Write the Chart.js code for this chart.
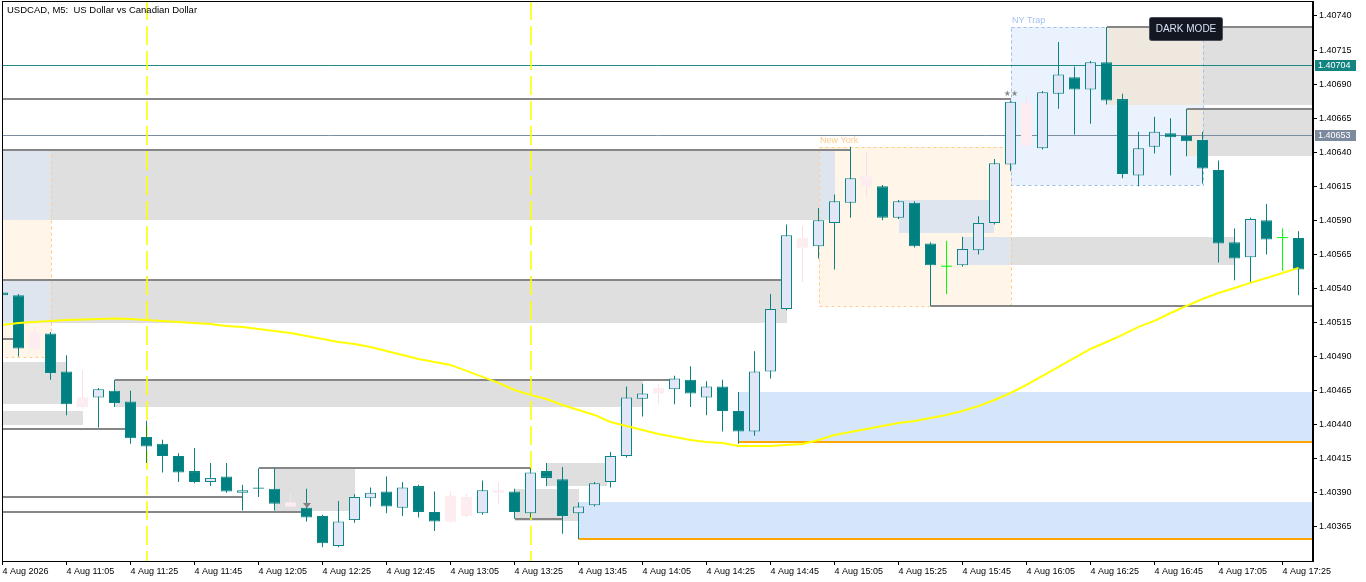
<!DOCTYPE html>
<html><head><meta charset="utf-8">
<script src="https://cdn.jsdelivr.net/npm/chart.js@4.4.1/dist/chart.umd.min.js"></script>
<style>html,body{margin:0;padding:0;background:#fff;overflow:hidden}#wrap{width:1366px;height:582px}</style>
</head><body><div id="wrap"><canvas id="c" width="1366" height="582"></canvas></div>
<script>
// ---------- data ----------
const times = ["10:45","10:50","10:55","11:00","11:05","11:10","11:15","11:20","11:25","11:30","11:35","11:40","11:45","11:50","11:55","12:00","12:05","12:10","12:15","12:20","12:25","12:30","12:35","12:40","12:45","12:50","12:55","13:00","13:05","13:10","13:15","13:20","13:25","13:30","13:35","13:40","13:45","13:50","13:55","14:00","14:05","14:10","14:15","14:20","14:25","14:30","14:35","14:40","14:45","14:50","14:55","15:00","15:05","15:10","15:15","15:20","15:25","15:30","15:35","15:40","15:45","15:50","15:55","16:00","16:05","16:10","16:15","16:20","16:25","16:30","16:35","16:40","16:45","16:50","16:55","17:00","17:05","17:10","17:15","17:20","17:25","17:30"];
const opens  = [1.40537,1.40535,1.40496,1.40507,1.40479,1.40453,1.40460,1.40465,1.40457,1.40431,1.40426,1.40417,1.40406,1.40398,1.40402,1.40390,1.40393,1.40393,1.40380,1.40379,1.40373,1.40351,1.40370,1.40386,1.40391,1.40379,1.40395,1.40376,1.40369,1.40373,1.40375,1.40390,1.40391,1.40375,1.40406,1.40400,1.40375,1.40381,1.40398,1.40417,1.40459,1.40463,1.40466,1.40473,1.40460,1.40468,1.40450,1.40435,1.40479,1.40525,1.40570,1.40571,1.40588,1.40603,1.40615,1.40615,1.40592,1.40603,1.40573,1.40556,1.40557,1.40568,1.40588,1.40631,1.40645,1.40643,1.40683,1.40695,1.40686,1.40706,1.40679,1.40623,1.40644,1.40654,1.40652,1.40649,1.40627,1.40574,1.40563,1.40590,1.40577,1.40577];
const highs  = [1.40538,1.40536,1.40510,1.40508,1.40491,1.40480,1.40467,1.40473,1.40465,1.40443,1.40429,1.40419,1.40423,1.40412,1.40412,1.40396,1.40408,1.40408,1.40390,1.40393,1.40374,1.40384,1.40389,1.40394,1.40402,1.40398,1.40396,1.40391,1.40391,1.40389,1.40399,1.40398,1.40393,1.40408,1.40412,1.40409,1.40383,1.40398,1.40420,1.40468,1.40470,1.40470,1.40476,1.40483,1.40472,1.40473,1.40464,1.40494,1.40536,1.40587,1.40586,1.40599,1.40609,1.40644,1.40640,1.40616,1.40605,1.40604,1.40574,1.40575,1.40578,1.40593,1.40635,1.40678,1.40681,1.40685,1.40721,1.40703,1.40707,1.40732,1.40683,1.40655,1.40666,1.40665,1.40672,1.40655,1.40634,1.40584,1.40592,1.40602,1.40584,1.40582];
const lows   = [1.40534,1.40490,1.40495,1.40473,1.40447,1.40452,1.40438,1.40453,1.40426,1.40412,1.40405,1.40398,1.40397,1.40395,1.40390,1.40377,1.40387,1.40377,1.40379,1.40369,1.40350,1.40350,1.40368,1.40380,1.40375,1.40373,1.40372,1.40362,1.40368,1.40372,1.40374,1.40382,1.40371,1.40372,1.40395,1.40360,1.40356,1.40380,1.40394,1.40416,1.40446,1.40455,1.40455,1.40453,1.40447,1.40435,1.40426,1.40432,1.40474,1.40524,1.40545,1.40562,1.40554,1.40592,1.40607,1.40590,1.40591,1.40570,1.40527,1.40536,1.40556,1.40565,1.40587,1.40626,1.40644,1.40642,1.40672,1.40653,1.40661,1.40675,1.40621,1.40615,1.40639,1.40623,1.40637,1.40617,1.40559,1.40546,1.40544,1.40565,1.40553,1.40535];
const closes = [1.40535,1.40496,1.40508,1.40478,1.40455,1.40460,1.40466,1.40456,1.40430,1.40424,1.40417,1.40405,1.40398,1.40401,1.40391,1.40392,1.40394,1.40382,1.40383,1.40372,1.40353,1.40369,1.40387,1.40390,1.40380,1.40394,1.40376,1.40369,1.40388,1.40387,1.40392,1.40392,1.40376,1.40405,1.40401,1.40373,1.40380,1.40397,1.40417,1.40460,1.40463,1.40467,1.40474,1.40463,1.40468,1.40450,1.40435,1.40479,1.40525,1.40579,1.40577,1.40590,1.40604,1.40621,1.40622,1.40592,1.40604,1.40571,1.40557,1.40556,1.40569,1.40588,1.40632,1.40677,1.40676,1.40684,1.40697,1.40686,1.40706,1.40678,1.40624,1.40643,1.40655,1.40651,1.40648,1.40628,1.40573,1.40562,1.40591,1.40576,1.40577,1.40554];
const maValues = [1.405132,1.405147,1.405154,1.405162,1.405169,1.405173,1.405176,1.405180,1.405176,1.405169,1.405162,1.405154,1.405147,1.405140,1.405125,1.405118,1.405103,1.405088,1.405074,1.405052,1.405030,1.405007,1.404993,1.404971,1.404941,1.404912,1.404883,1.404861,1.404839,1.404795,1.404751,1.404707,1.404655,1.404619,1.404589,1.404545,1.404508,1.404472,1.404420,1.404391,1.404362,1.404332,1.404310,1.404288,1.404274,1.404266,1.404244,1.404244,1.404244,1.404252,1.404259,1.404288,1.404325,1.404347,1.404369,1.404391,1.404413,1.404428,1.404450,1.404472,1.404501,1.404538,1.404582,1.404633,1.404692,1.404758,1.404824,1.404890,1.404956,1.405007,1.405059,1.405118,1.405162,1.405220,1.405272,1.405323,1.405367,1.405404,1.405441,1.405477,1.405514,1.405551];
const maskedBars = [2,5,18,28,29,31,41,50,54,64];
const xTickIdx = [0,4,8,12,16,20,24,28,32,36,40,44,48,52,56,60,64,68,72,76,80];
const xTickLabels = ["4 Aug 2026","4 Aug 11:05","4 Aug 11:25","4 Aug 11:45","4 Aug 12:05","4 Aug 12:25","4 Aug 12:45","4 Aug 13:05","4 Aug 13:25","4 Aug 13:45","4 Aug 14:05","4 Aug 14:25","4 Aug 14:45","4 Aug 15:05","4 Aug 15:25","4 Aug 15:45","4 Aug 16:05","4 Aug 16:25","4 Aug 16:45","4 Aug 17:05","4 Aug 17:25"];
const yTickValues = [1.40365,1.40390,1.40415,1.40440,1.40465,1.40490,1.40515,1.40540,1.40565,1.40590,1.40615,1.40640,1.40665,1.40690,1.40715,1.40740];
const titleText = "USDCAD, M5:  US Dollar vs Canadian Dollar";
// session boxes (bar index range, price range)
const sessionNames = ["", "New York", "NY Trap"];
const sessionFrom  = [-2, 51, 63];
const sessionTo    = [3, 63, 75];
const sessionTop   = [1.40642, 1.40644, 1.40732];
const sessionBot   = [1.40490, 1.40527, 1.40616];
const sessionKind  = ["peach", "peach", "blue"];
// supply / imbalance zones
const zoneFrom = [-2, -2, 7, -2, -2, 17, 34, 32, 56, 60, 69, 74];
const zoneTo   = [52, 49, 40, 4, 5, 22, 37.75, 36, 62, 77, 90, 90];
const zoneTop  = [1.40642,1.40546,1.40473,1.40486,1.40450,1.40408,1.40412,1.40393,1.40605,1.40578,1.40732,1.40672];
const zoneBot  = [1.40590,1.40515,1.40453,1.40455,1.40440,1.40377,1.40395,1.40369,1.40581,1.40557,1.40675,1.40637];
// demand zones
const demandFrom = [46, 36];
const demandTop  = [1.40464, 1.40383];
const demandBot  = [1.40427, 1.40356];
// level lines
const levelPrice = [1.40679,1.40642,1.40546,1.40503,1.40473,1.40437,1.40408,1.40387,1.40376,1.40371,1.40527,1.40732,1.40672];
const levelFrom  = [-2,-2,-2,-2,7,-2,16,-2,-2,32,58,69,74];
const levelTo    = [63,53,49,1,42,8,33,15,19,35,90,90,90];
const sessionStarts = [9, 33];
const tealLevel = 1.40704;
const slateLevel = 1.40653;
const starBar = 63, starPrice = 1.40683;
const markBar = 19, markPrice = 1.40381;

// ---------- chart ----------
const FONT = "'Liberation Sans', Arial, sans-serif";
Chart.defaults.font.family = "Liberation Sans";
const TEAL = '#008080', LAV = '#E3E6F7', PINK = '#FDEDF1', PINKW = '#F9E0E8', DOJI = '#00FF00';
function bodyColor(i){ if (maskedBars.includes(i)) return PINK; if (closes[i] > opens[i]) return LAV; if (closes[i] < opens[i]) return TEAL; return DOJI; }
function edgeColor(i){ if (maskedBars.includes(i)) return PINK; if (closes[i] === opens[i]) return DOJI; return '#0B8585'; }
function wickColor(i){ if (maskedBars.includes(i)) return PINKW; if (closes[i] === opens[i]) return DOJI; return '#0B8282'; }

const overlayPlugin = {
  id: 'overlay',
  beforeDatasetsDraw(chart) {
    const ctx = chart.ctx, a = chart.chartArea, xs = chart.scales.x, ys = chart.scales.y;
    const px = v => Math.round(xs.getPixelForValue(v));
    const py = v => Math.round(ys.getPixelForValue(v));
    ctx.save();
    ctx.beginPath(); ctx.rect(a.left, a.top, a.right - a.left, a.bottom - a.top); ctx.clip();
    const boxFill = {peach: '#FFF5E9', blue: '#EAF2FD'};
    const boxEdge = {peach: '#FFCB85', blue: '#9DBFF2'};
    const overlapFill = {peach: '#DEE5EF', blue: '#EFE8DE'};
    sessionFrom.forEach((f, k) => {
      ctx.fillStyle = boxFill[sessionKind[k]];
      ctx.fillRect(px(f), py(sessionTop[k]), px(sessionTo[k]) - px(f), py(sessionBot[k]) - py(sessionTop[k]));
    });
    zoneFrom.forEach((f, k) => {
      const x1 = px(f), x2 = px(zoneTo[k]), y1 = py(zoneTop[k]), y2 = py(zoneBot[k]);
      ctx.fillStyle = '#DFDFDF';
      ctx.fillRect(x1, y1, x2 - x1, y2 - y1);
      sessionFrom.forEach((sf, s) => {
        const bx1 = Math.max(x1, px(sf)), bx2 = Math.min(x2, px(sessionTo[s]));
        const by1 = Math.max(y1, py(sessionTop[s])), by2 = Math.min(y2, py(sessionBot[s]));
        if (bx2 > bx1 && by2 > by1) { ctx.fillStyle = overlapFill[sessionKind[s]]; ctx.fillRect(bx1, by1, bx2 - bx1, by2 - by1); }
      });
    });
    demandFrom.forEach((f, k) => {
      const x1 = px(f), y1 = py(demandTop[k]), y2 = py(demandBot[k]);
      ctx.fillStyle = '#D5E6FB';
      ctx.fillRect(x1, y1, a.right - x1, y2 - y1);
    });
    ctx.lineWidth = 1; ctx.setLineDash([3, 3]);
    sessionFrom.forEach((f, k) => {
      ctx.strokeStyle = boxEdge[sessionKind[k]];
      ctx.strokeRect(px(f) + 0.5, py(sessionTop[k]) + 0.5, px(sessionTo[k]) - px(f), py(sessionBot[k]) - py(sessionTop[k]));
    });
    ctx.setLineDash([]);
    ctx.lineWidth = 1;
    ctx.strokeStyle = '#1F8A8A';
    ctx.beginPath(); ctx.moveTo(a.left, py(tealLevel) + 0.5); ctx.lineTo(a.right, py(tealLevel) + 0.5); ctx.stroke();
    ctx.strokeStyle = '#7B8DA0';
    ctx.beginPath(); ctx.moveTo(a.left, py(slateLevel) + 0.5); ctx.lineTo(a.right, py(slateLevel) + 0.5); ctx.stroke();
    ctx.lineWidth = 2; ctx.strokeStyle = '#868686';
    levelPrice.forEach((p, k) => {
      ctx.beginPath(); ctx.moveTo(px(levelFrom[k]), py(p)); ctx.lineTo(px(levelTo[k]), py(p)); ctx.stroke();
    });
    ctx.strokeStyle = '#FFA500';
    demandFrom.forEach((f, k) => {
      ctx.beginPath(); ctx.moveTo(px(f), py(demandBot[k])); ctx.lineTo(a.right, py(demandBot[k])); ctx.stroke();
    });
    ctx.lineWidth = 1.6; ctx.strokeStyle = '#FFFF00'; ctx.setLineDash([19, 6]);
    sessionStarts.forEach(i => {
      const x = px(i);
      ctx.beginPath(); ctx.moveTo(x, a.top); ctx.lineTo(x, a.bottom); ctx.stroke();
    });
    ctx.setLineDash([]);
    ctx.font = '9px ' + FONT; ctx.textBaseline = 'bottom'; ctx.textAlign = 'left';
    sessionNames.forEach((n, k) => {
      if (!n) return;
      ctx.fillStyle = sessionKind[k] === 'peach' ? '#FFCC88' : '#A3C3F0';
      ctx.fillText(n, px(sessionFrom[k]) + 1, py(sessionTop[k]) - 2);
    });
    ctx.restore();
  },
  afterDraw(chart) {
    const ctx = chart.ctx, a = chart.chartArea, xs = chart.scales.x, ys = chart.scales.y;
    const px = v => Math.round(xs.getPixelForValue(v));
    const py = v => Math.round(ys.getPixelForValue(v));
    ctx.save();
    ctx.fillStyle = '#8A8A8A'; ctx.font = "8px 'DejaVu Sans', sans-serif"; ctx.textAlign = 'center'; ctx.textBaseline = 'middle';
    ctx.fillText('★★', px(starBar), py(starPrice));
    ctx.fillStyle = '#808080';
    const mx = px(markBar), my = py(markPrice);
    ctx.beginPath(); ctx.moveTo(mx - 4, my - 2); ctx.lineTo(mx + 4, my - 2); ctx.lineTo(mx, my + 3); ctx.closePath(); ctx.fill();
    ctx.strokeStyle = '#000'; ctx.lineWidth = 1;
    ctx.strokeRect(a.left + 0.5, a.top + 0.5, a.right - a.left - 1, a.bottom - a.top);
    ctx.fillStyle = '#000'; ctx.font = '9.5px ' + FONT; ctx.textAlign = 'left'; ctx.textBaseline = 'middle';
    ctx.fillText(titleText, 7, 10);
    const tag = (v, bg) => {
      const y = py(v);
      ctx.fillStyle = bg; ctx.fillRect(a.right + 2, y - 5, 41, 11);
      ctx.fillStyle = '#fff'; ctx.font = '9px ' + FONT; ctx.textAlign = 'left'; ctx.textBaseline = 'middle';
      ctx.fillText(v.toFixed(5), a.right + 5, y + 0.5);
    };
    tag(tealLevel, '#13847F');
    tag(slateLevel, '#7B8A9C');
    ctx.fillStyle = '#131722'; ctx.strokeStyle = '#4A4F5A'; ctx.lineWidth = 1;
    ctx.beginPath(); ctx.roundRect(1149.5, 17.5, 73, 23, 2); ctx.fill(); ctx.stroke();
    ctx.fillStyle = '#D6E2F4'; ctx.font = '10px ' + FONT; ctx.textAlign = 'center'; ctx.textBaseline = 'middle';
    ctx.fillText('DARK MODE', 1186, 29.5);
    ctx.restore();
  }
};

const idx = times.map((t, i) => i);
new Chart(document.getElementById('c'), {
  type: 'bar',
  data: {
    datasets: [
      { type: 'line', label: 'MA', order: 0, data: idx.map(i => ({x: i, y: maValues[i]})),
        borderColor: '#FFFF00', borderWidth: 2, pointRadius: 0, tension: 0, fill: false },
      { label: 'body', order: 1, data: idx.map(i => ({x: i, y: [opens[i], closes[i]]})),
        barThickness: 11, minBarLength: 1, grouped: false, inflateAmount: 0, borderSkipped: false,
        backgroundColor: c => bodyColor(c.dataIndex), borderColor: c => edgeColor(c.dataIndex),
        borderWidth: c => (closes[c.dataIndex] === opens[c.dataIndex] || maskedBars.includes(c.dataIndex)) ? 0 : 1 },
      { label: 'wick', order: 2, data: idx.map(i => ({x: i, y: [lows[i], highs[i]]})),
        barThickness: 1, grouped: false, inflateAmount: 0, borderWidth: 0,
        backgroundColor: c => wickColor(c.dataIndex) }
    ]
  },
  options: {
    responsive: false, animation: false, devicePixelRatio: 1,
    layout: { padding: { left: 2, top: 1, right: 0, bottom: 0 } },
    plugins: { legend: { display: false }, tooltip: { enabled: false } },
    scales: {
      x: { type: 'linear', min: -0.03125, max: 81.90625, offset: false,
        afterBuildTicks: s => { s.ticks = xTickIdx.map(v => ({value: v})); },
        afterFit: s => { s.height = 21; s.paddingLeft = 0; s.paddingRight = 0; },
        ticks: { align: 'start', maxRotation: 0, autoSkip: false, color: '#000', padding: 1,
          font: { size: 9 }, callback: (v, i) => xTickLabels[i] },
        grid: { drawOnChartArea: false, drawTicks: true, tickLength: 4, color: '#000', offset: false },
        border: { display: true, color: '#000' } },
      y: { position: 'right', min: 1.40340, max: 1.40751,
        afterBuildTicks: s => { s.ticks = yTickValues.map(v => ({value: v})); },
        afterFit: s => { s.width = 53; s.paddingTop = 0; s.paddingBottom = 0; },
        ticks: { color: '#000', padding: 2, font: { size: 9 }, callback: v => v.toFixed(5) },
        grid: { drawOnChartArea: false, drawTicks: true, tickLength: 4, color: '#000' },
        border: { display: true, color: '#000' } }
    }
  },
  plugins: [overlayPlugin]
});
</script>
</body></html>
